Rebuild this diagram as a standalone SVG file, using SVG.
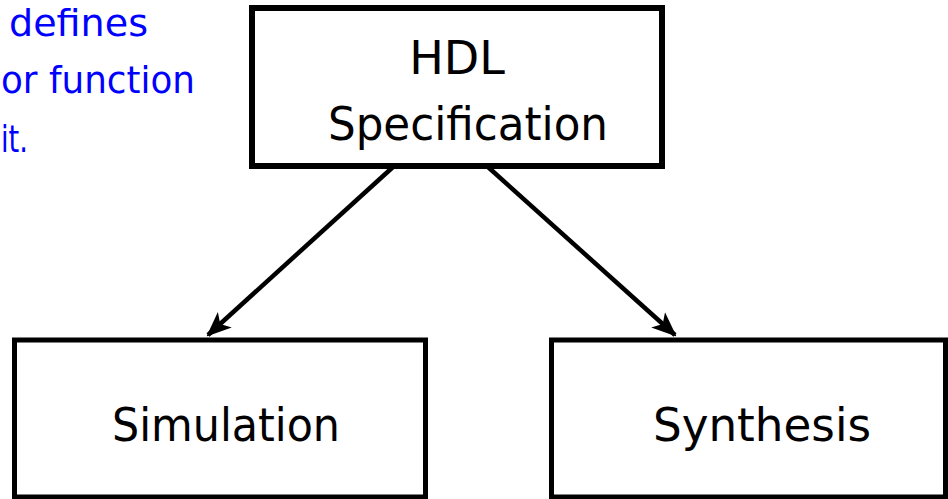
<svg xmlns="http://www.w3.org/2000/svg" width="948" height="499" viewBox="0 0 948 499">
<style>
.box{fill:#fff;stroke:#000;stroke-width:6}
.lbl{font-family:"DejaVu Sans","Liberation Sans",sans-serif;font-size:46px;fill:#000;text-anchor:middle}
.note{font-family:"DejaVu Sans","Liberation Sans",sans-serif;font-size:38px;fill:#0000ff}
.conn{stroke:#000;stroke-width:4.5;fill:none}
</style>
<defs>
<marker id="arr" viewBox="0 0 12 10" refX="11" refY="5" markerWidth="5.5" markerHeight="5" orient="auto" markerUnits="strokeWidth">
<path d="M0,0 L12,5 L0,10 L3,5 Z" fill="#000"/>
</marker>
</defs>
<g id="note">
<text class="note" x="9" y="36" textLength="139" lengthAdjust="spacingAndGlyphs">defines</text>
<text class="note" x="1" y="93" textLength="194" lengthAdjust="spacingAndGlyphs">or function</text>
<text class="note" x="1" y="152" textLength="27" lengthAdjust="spacingAndGlyphs">it.</text>
</g>
<g id="connectors">
<line class="conn" x1="393" y1="167" x2="208" y2="335" marker-end="url(#arr)"/>
<line class="conn" x1="488" y1="167" x2="675" y2="335" marker-end="url(#arr)"/>
</g>
<g id="hdl">
<rect class="box" x="252" y="8" width="410" height="158"/>
<text class="lbl" x="457" y="74">HDL</text>
<text class="lbl" x="468" y="140" textLength="280" lengthAdjust="spacingAndGlyphs">Specification</text>
</g>
<g id="simulation">
<rect class="box" x="14.5" y="340" width="411" height="157" style="stroke-width:5"/>
<text class="lbl" x="226" y="441" textLength="228" lengthAdjust="spacingAndGlyphs">Simulation</text>
</g>
<g id="synthesis">
<rect class="box" x="551.5" y="340" width="394" height="157" style="stroke-width:5"/>
<text class="lbl" x="762" y="441" textLength="218" lengthAdjust="spacingAndGlyphs">Synthesis</text>
</g>
</svg>
